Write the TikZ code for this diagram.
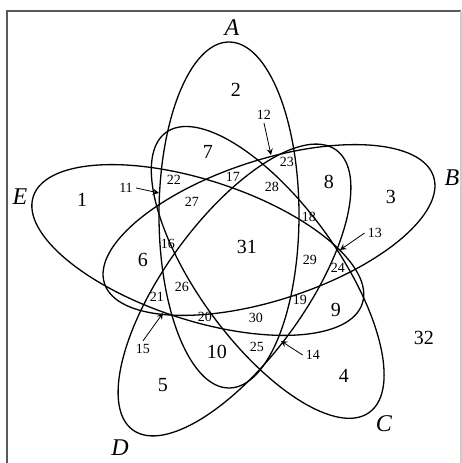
\documentclass[tikz,border=0pt]{standalone}
\usepackage{fontspec}
\setmainfont{Liberation Serif}
\begin{document}
\begin{tikzpicture}[x=0.5pt,y=0.5pt,
	set/.style={line width=0.65pt},
	big/.style={inner sep=0pt,font=\normalsize},
	sml/.style={inner sep=0pt,font=\scriptsize},
	let/.style={inner sep=0pt,font=\large\itshape},
	pnt/.style={->,>=stealth,line width=0.4pt}]
	\useasboundingbox (0,0) rectangle (462,463);
	\draw[gray!70!black,line width=0.7pt] (7,-5) -- (7,452) -- (461,452);
	\draw[gray!40,line width=0.6pt] (461,452) -- (461,-5);
	% the five ellipses
	\draw[set,rotate around={0:(229,248)}] (229,248) ellipse [x radius=70,y radius=173];
	\draw[set,rotate around={-72:(269,233)}] (269,233) ellipse [x radius=70,y radius=173];
	\draw[set,rotate around={-144:(267.7,190.6)}] (267.7,190.6) ellipse [x radius=70,y radius=173];
	\draw[set,rotate around={144:(234.5,173)}] (234.5,173) ellipse [x radius=70,y radius=173];
	\draw[set,rotate around={72:(197.8,213)}] (197.8,213) ellipse [x radius=70,y radius=173];
	% set names
	\node[let] (lA) at (232,435) {A};
	\node[let] (lB) at (452,285) {B};
	\node[let] (lC) at (384,39) {C};
	\node[let] (lD) at (120,15) {D};
	\node[let] (lE) at (20,266) {E};
	% regions
	\node[big] (n1) at (82,263) {1};
	\node[big] (n2) at (236,373) {2};
	\node[big] (n3) at (391,266) {3};
	\node[big] (n4) at (344,87) {4};
	\node[big] (n5) at (163,78) {5};
	\node[big] (n6) at (143,203) {6};
	\node[big] (n7) at (208,311) {7};
	\node[big] (n8) at (329,281) {8};
	\node[big] (n9) at (336,153) {9};
	\node[big] (n10) at (217,111) {10};
	\node[sml] (n11) at (126,275) {11};
	\node[sml] (n12) at (264,348) {12};
	\node[sml] (n13) at (375,230) {13};
	\node[sml] (n14) at (313,108) {14};
	\node[sml] (n15) at (143,114) {15};
	\node[sml] (n16) at (168,219) {16};
	\node[sml] (n17) at (233,286) {17};
	\node[sml] (n18) at (309,246) {18};
	\node[sml] (n19) at (300,163) {19};
	\node[sml] (n20) at (205,146) {20};
	\node[sml] (n21) at (157,166) {21};
	\node[sml] (n22) at (174,283) {22};
	\node[sml] (n23) at (287,301) {23};
	\node[sml] (n24) at (338,195) {24};
	\node[sml] (n25) at (257,116) {25};
	\node[sml] (n26) at (182,176) {26};
	\node[sml] (n27) at (192,261) {27};
	\node[sml] (n28) at (272,276) {28};
	\node[sml] (n29) at (310,203) {29};
	\node[sml] (n30) at (256,145) {30};
	\node[big] (n31) at (247,216) {31};
	\node[big] (n32) at (424,125) {32};
	% tiny regions
	\coordinate (t11) at (159,270);
	\coordinate (t12) at (271,308);
	\coordinate (t13) at (340,213);
	\coordinate (t14) at (281,122);
	\coordinate (t15) at (163,150);
	\draw[pnt] (n11.east) ++(3,0) -- (t11);
	\draw[pnt] (n12.south) ++(0,-3) -- (t12);
	\draw[pnt] (n13.west) ++(-3,0) -- (t13);
	\draw[pnt] (n14.west) ++(-3,0) -- (t14);
	\draw[pnt] (n15.north) ++(0,3) -- (t15);
\end{tikzpicture}
\end{document}
